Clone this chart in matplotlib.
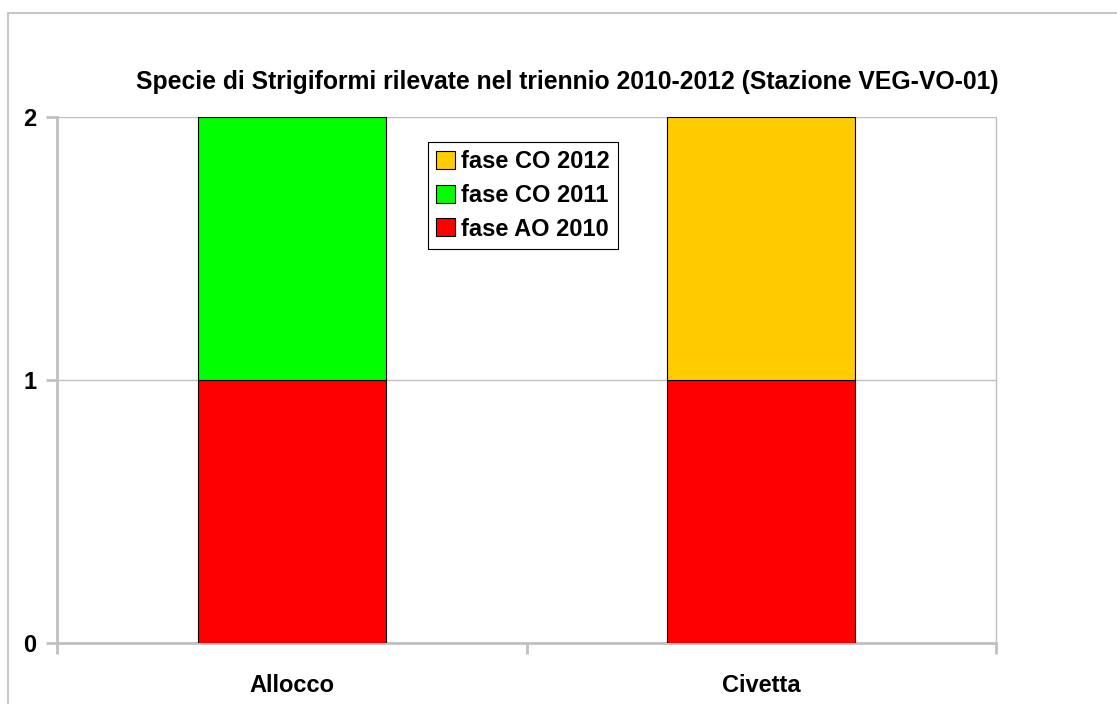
import matplotlib.pyplot as plt
import matplotlib.patches as mpatches
import numpy as np

# data
species = ["Allocco", "Civetta"]
fase_ao_2010 = [1, 1]
fase_co_2011 = [1, 0]
fase_co_2012 = [0, 1]
yticks = [0, 1, 2]

plt.rcParams["font.family"] = ["Liberation Sans", "DejaVu Sans"]
plt.rcParams["font.weight"] = "bold"

fig = plt.figure(figsize=(11.17, 7.04), dpi=100)
ax = fig.add_axes([57 / 1117, 61 / 704, 939 / 1117, 526 / 704])

# outer chart border (partly cut off, as in the reference)
fig.patches.append(mpatches.Rectangle((8 / 1117, -0.1), 1.2, (704 - 13) / 704 + 0.1,
                                      transform=fig.transFigure, fill=False,
                                      edgecolor="#c8c8c8", linewidth=1.5))

colors = {"fase AO 2010": "#ff0000", "fase CO 2011": "#00ff00", "fase CO 2012": "#ffcc00"}

x = np.arange(len(species))
w = 0.4
bottom = np.zeros(len(species))
for name, vals in (("fase AO 2010", fase_ao_2010), ("fase CO 2011", fase_co_2011),
                   ("fase CO 2012", fase_co_2012)):
    vals = np.array(vals)
    keep = vals > 0
    ax.bar(x[keep], vals[keep], w, bottom=bottom[keep], color=colors[name],
           edgecolor="black", linewidth=0.8, zorder=3)
    bottom = bottom + vals

ax.set_xlim(-0.5, 1.5)
ax.set_ylim(0, 2)
ax.set_yticks(yticks)
ax.set_yticklabels([str(t) for t in yticks], fontsize=17, fontweight="bold")
ax.yaxis.grid(True, color="#c0c0c0", linewidth=1, zorder=0)

ax.set_xticks([-0.5, 0.5, 1.5])
ax.set_xticklabels([])
ax.set_xticks(x, minor=True)
ax.set_xticklabels(species, minor=True, fontsize=17, fontweight="bold")
ax.tick_params(axis="x", which="minor", length=0, pad=22)
ax.tick_params(axis="x", which="major", length=8, width=2, color="#c0c0c0")
ax.tick_params(axis="y", length=8, width=2, color="#c0c0c0", pad=7)

for side in ("left", "bottom"):
    ax.spines[side].set_color("#c0c0c0")
    ax.spines[side].set_linewidth(2)
ax.spines["right"].set_color("#c0c0c0")
ax.spines["right"].set_linewidth(1)
ax.spines["top"].set_visible(False)

fig.text(567 / 1117, 1 - 82 / 704,
         "Specie di Strigiformi rilevate nel triennio 2010-2012 (Stazione VEG-VO-01)",
         ha="center", va="center", fontsize=17.8, fontweight="bold")

handles = [mpatches.Patch(facecolor=colors[n], edgecolor="black", linewidth=0.8, label=n)
           for n in ("fase CO 2012", "fase CO 2011", "fase AO 2010")]
leg = ax.legend(handles=handles, loc="upper left",
                bbox_to_anchor=((428 - 57) / 939, (643 - 142) / 526),
                frameon=True, fancybox=False, edgecolor="black", framealpha=1,
                prop={"size": 17, "weight": "bold"}, handlelength=0.8,
                handleheight=0.8, handletextpad=0.25, labelspacing=0.45,
                borderpad=0.35, borderaxespad=0)
leg.get_frame().set_linewidth(0.8)

fig.savefig("out.png", dpi=100)
